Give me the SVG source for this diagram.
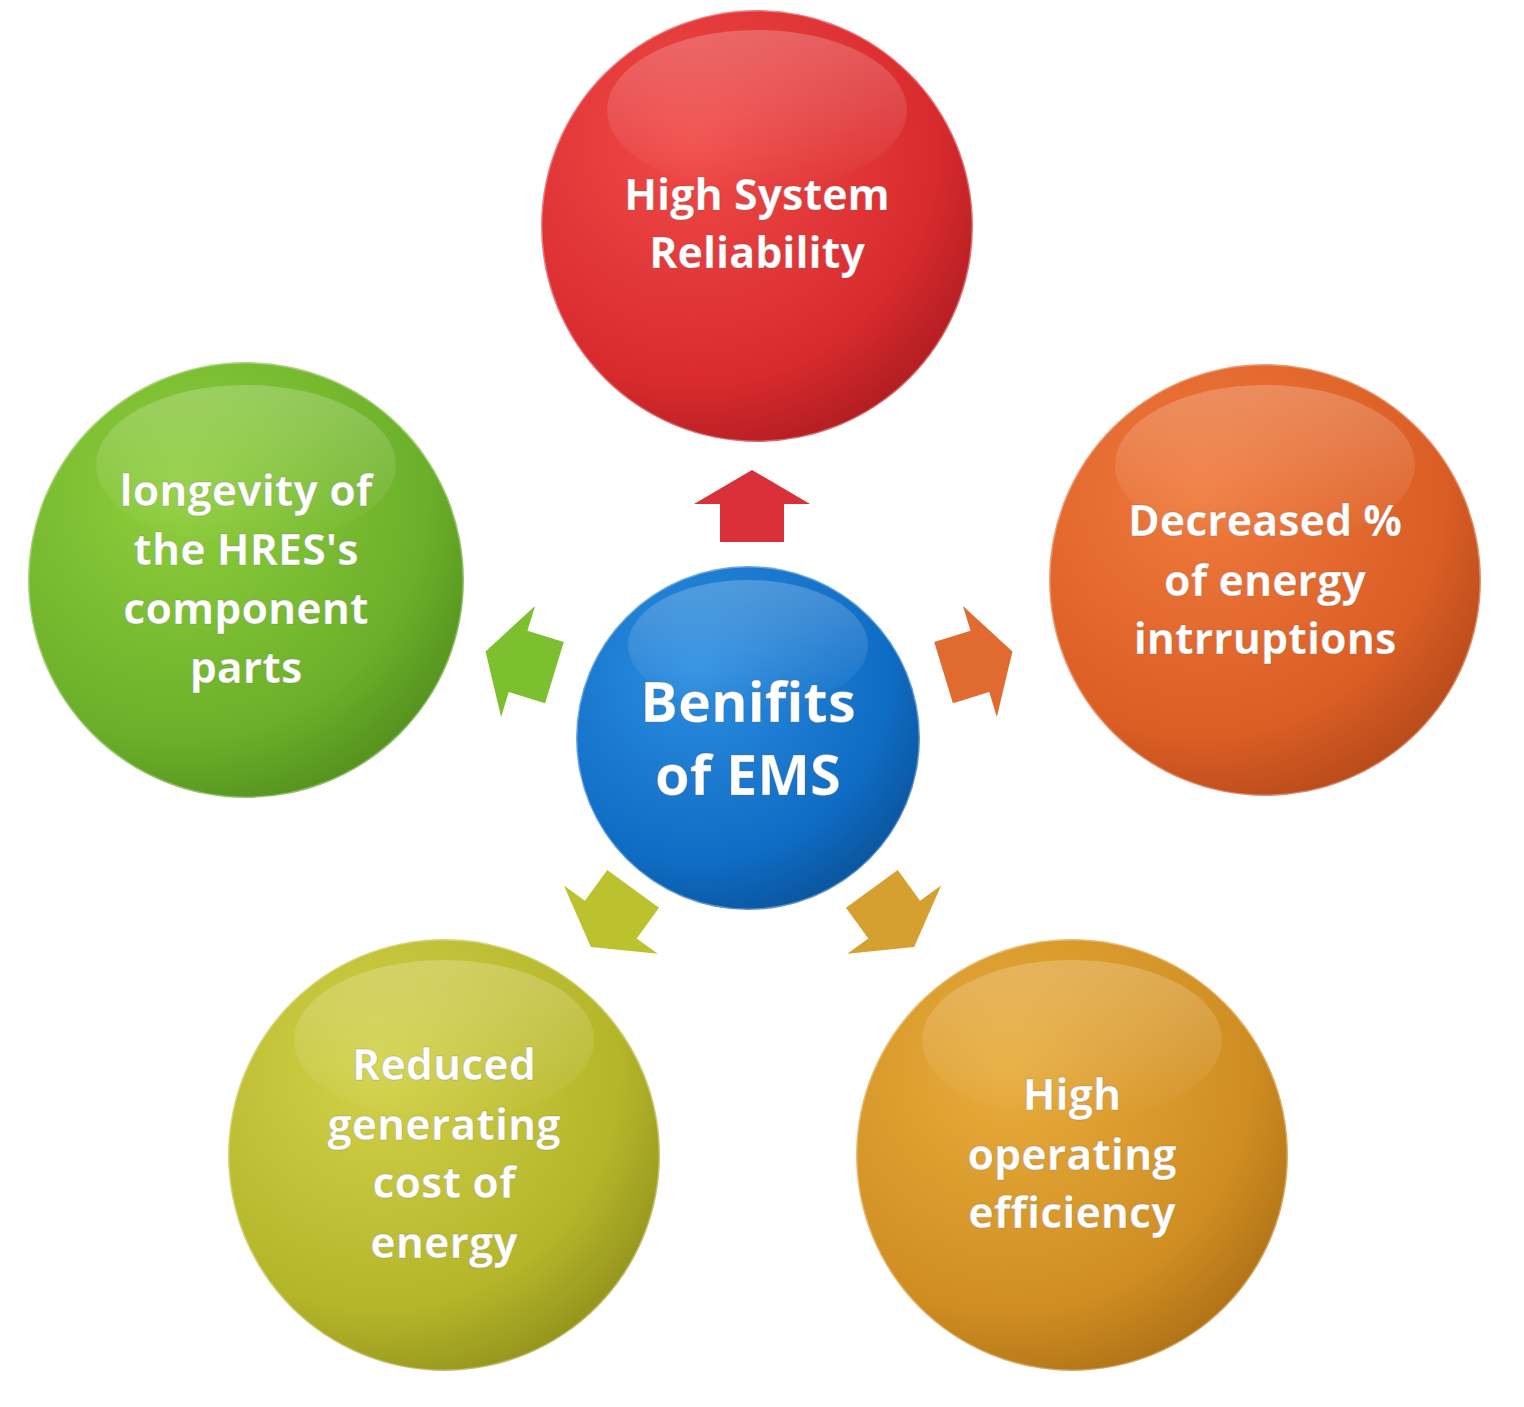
<svg xmlns="http://www.w3.org/2000/svg" width="1524" height="1407" viewBox="0 0 1524 1407">
<defs>
<radialGradient id="gr" cx="0.35" cy="0.3" r="0.8"><stop offset="0" stop-color="#f04a48"/><stop offset="0.7" stop-color="#d92b2e"/><stop offset="1" stop-color="#a81a1f"/></radialGradient>
<radialGradient id="go" cx="0.35" cy="0.3" r="0.8"><stop offset="0" stop-color="#f07a3c"/><stop offset="0.7" stop-color="#db5e25"/><stop offset="1" stop-color="#b04618"/></radialGradient>
<radialGradient id="gg" cx="0.35" cy="0.3" r="0.8"><stop offset="0" stop-color="#8fcf3c"/><stop offset="0.7" stop-color="#6cb02a"/><stop offset="1" stop-color="#4f8a1c"/></radialGradient>
<radialGradient id="gy" cx="0.35" cy="0.3" r="0.8"><stop offset="0" stop-color="#d2d24a"/><stop offset="0.7" stop-color="#b5b52a"/><stop offset="1" stop-color="#8c8c1a"/></radialGradient>
<radialGradient id="gd" cx="0.35" cy="0.3" r="0.8"><stop offset="0" stop-color="#e8ac3c"/><stop offset="0.7" stop-color="#d08e22"/><stop offset="1" stop-color="#a86c14"/></radialGradient>
<radialGradient id="gb" cx="0.35" cy="0.3" r="0.8"><stop offset="0" stop-color="#2c8ee0"/><stop offset="0.7" stop-color="#0f6cc4"/><stop offset="1" stop-color="#0a4f94"/></radialGradient>
<linearGradient id="shine" x1="0" y1="0" x2="0" y2="1"><stop offset="0" stop-color="#fff" stop-opacity="0.22"/><stop offset="1" stop-color="#fff" stop-opacity="0"/></linearGradient>
<path id="arr" d="M0,-36 L58,-2 L32,-2 L32,36 L-32,36 L-32,-2 L-58,-2 Z"/>
</defs>
<style>
text{font-family:"Open Sans",Lato,"Liberation Sans",sans-serif;font-weight:bold;fill:#fff;text-anchor:middle;stroke:#5a5a5a;stroke-opacity:0.25;stroke-width:1}
.t{font-size:43px}
.c{font-size:56px}
.ring{stroke:#fff;stroke-opacity:0.35;stroke-width:3}
</style>
<rect width="1524" height="1407" fill="#fff"/>
<g id="connectors">
<use href="#arr" fill="#d9303a" transform="translate(752,506)"/>
<use href="#arr" fill="#e06a30" transform="translate(978,662) rotate(73)"/>
<use href="#arr" fill="#7cc030" transform="translate(520,662) rotate(-73)"/>
<use href="#arr" fill="#bcc22e" transform="translate(612,918) rotate(-144)"/>
<use href="#arr" fill="#d6a030" transform="translate(893,918) rotate(144)"/>
</g>
<g id="n-reliability">
<circle cx="757" cy="226" r="216" fill="url(#gr)" class="ring"/>
<ellipse cx="757" cy="110" rx="150" ry="80" fill="url(#shine)"/>
<text class="t" x="757" y="210">High System</text>
<text class="t" x="757" y="268">Reliability</text>
</g>
<g id="n-interruptions">
<circle cx="1265" cy="580" r="216" fill="url(#go)" class="ring"/>
<ellipse cx="1265" cy="465" rx="150" ry="80" fill="url(#shine)"/>
<text class="t" x="1265" y="536">Decreased %</text>
<text class="t" x="1265" y="596">of energy</text>
<text class="t" x="1265" y="654">intrruptions</text>
</g>
<g id="n-longevity">
<circle cx="246" cy="580" r="218" fill="url(#gg)" class="ring"/>
<ellipse cx="246" cy="465" rx="150" ry="80" fill="url(#shine)"/>
<text class="t" x="246" y="506">longevity of</text>
<text class="t" x="246" y="565">the HRES's</text>
<text class="t" x="246" y="624">component</text>
<text class="t" x="246" y="683">parts</text>
</g>
<g id="n-cost">
<circle cx="444" cy="1155" r="216" fill="url(#gy)" class="ring"/>
<ellipse cx="444" cy="1040" rx="150" ry="80" fill="url(#shine)"/>
<text class="t" x="444" y="1080">Reduced</text>
<text class="t" x="444" y="1140">generating</text>
<text class="t" x="444" y="1198">cost of</text>
<text class="t" x="444" y="1258">energy</text>
</g>
<g id="n-efficiency">
<circle cx="1072" cy="1155" r="216" fill="url(#gd)" class="ring"/>
<ellipse cx="1072" cy="1040" rx="150" ry="80" fill="url(#shine)"/>
<text class="t" x="1072" y="1110">High</text>
<text class="t" x="1072" y="1170">operating</text>
<text class="t" x="1072" y="1228">efficiency</text>
</g>
<g id="n-center">
<circle cx="748" cy="738" r="172" fill="url(#gb)" class="ring"/>
<ellipse cx="748" cy="645" rx="120" ry="65" fill="url(#shine)"/>
<text class="c" x="748" y="722">Benifits</text>
<text class="c" x="748" y="795">of EMS</text>
</g>
</svg>
